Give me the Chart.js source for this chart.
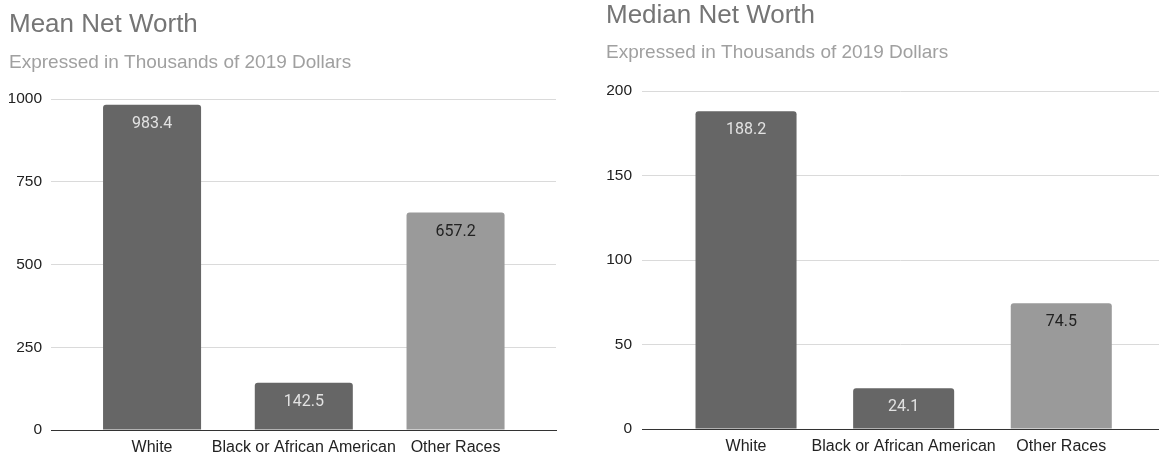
<!DOCTYPE html>
<html>
<head>
<meta charset="utf-8">
<script src="https://cdn.jsdelivr.net/npm/chart.js@4"></script>
<style>
  html, body { margin: 0; padding: 0; background: #fff; overflow: hidden; }
  canvas { position: absolute; top: 0; }
  #meanChart { left: 0; }
  #medianChart { left: 598px; }
</style>
</head>
<body>
<canvas id="meanChart" width="580" height="457"></canvas>
<canvas id="medianChart" width="561" height="457"></canvas>
<script>
const categories = ["White", "Black or African American", "Other Races"];
const meanValues = [983.4, 142.5, 657.2];
const medianValues = [188.2, 24.1, 74.5];
const barColors = ["#666666", "#666666", "#9a9a9a"];
const labelColors = ["#e2e2e2", "#e2e2e2", "#222222"];

// value labels drawn just inside the top of each bar
const barLabels = {
  id: "barLabels",
  afterDatasetsDraw(chart) {
    const ctx = chart.ctx;
    const meta = chart.getDatasetMeta(0);
    const ds = chart.data.datasets[0];
    ctx.save();
    ctx.font = "16px Roboto";
    ctx.textAlign = "center";
    ctx.textBaseline = "middle";
    meta.data.forEach((bar, i) => {
      ctx.fillStyle = labelColors[i];
      ctx.fillText(ds.data[i].y.toFixed(1), bar.x, bar.y + 19);
    });
    ctx.restore();
  }
};

function makeChart(id, cfg) {
  const ctx = document.getElementById(id);
  return new Chart(ctx, {
    type: "bar",
    data: {
      datasets: [{
        data: cfg.values.map((v, i) => ({ x: i, y: v })),
        backgroundColor: barColors,
        borderRadius: { topLeft: 3, topRight: 3 },
        borderSkipped: "start",
        categoryPercentage: 1,
        barPercentage: cfg.barPct
      }]
    },
    options: {
      responsive: false,
      animation: false,
      events: [],
      layout: { padding: { left: cfg.padLeft, right: cfg.padRight, top: 0, bottom: 0 } },
      plugins: {
        legend: { display: false },
        tooltip: { enabled: false },
        title: {
          display: true,
          text: cfg.title,
          align: "start",
          color: "#757575",
          font: { family: "'Liberation Sans', Arial", size: 26, weight: "normal", lineHeight: 1.2 },
          padding: cfg.titlePad
        },
        subtitle: {
          display: true,
          text: "Expressed in Thousands of 2019 Dollars",
          align: "start",
          color: "#a0a0a0",
          font: { family: "'Liberation Sans', Arial", size: 19, lineHeight: 1.2 },
          padding: cfg.subPad
        }
      },
      scales: {
        x: {
          type: "linear",
          offset: false,
          min: cfg.xMin,
          max: cfg.xMax,
          grid: { display: false, drawTicks: false },
          border: { display: true, color: "#333333", width: 1 },
          afterBuildTicks: (scale) => { scale.ticks = categories.map((_, i) => ({ value: i })); },
          afterFit: (scale) => { scale.height = cfg.xHeight; },
          ticks: {
            autoSkip: false,
            maxRotation: 0,
            padding: 8,
            color: "#222222",
            font: { family: "'Liberation Sans', Arial", size: 16 },
            callback: (v) => categories[v]
          }
        },
        y: {
          min: 0,
          max: cfg.yMax,
          grid: { color: "#dadada", drawTicks: false },
          border: { display: false },
          afterFit: (scale) => { scale.width = cfg.yWidth; },
          ticks: {
            stepSize: cfg.yStep,
            padding: cfg.yPad,
            color: "#222222",
            font: { family: "'Liberation Sans', Arial", size: 15.5 },
            callback: (v) => String(v)
          }
        }
      }
    },
    plugins: [barLabels]
  });
}

makeChart("meanChart", {
  title: "Mean Net Worth",
  values: meanValues,
  yMax: 1000, yStep: 250,
  xMin: -0.666, xMax: 2.662, barPct: 0.646,
  padLeft: 9, padRight: 24,
  yWidth: 42, yPad: 9, xHeight: 27,
  titlePad: { top: 9, bottom: 4 },
  subPad: { top: 6.7, bottom: 25.5 }
});

makeChart("medianChart", {
  title: "Median Net Worth",
  values: medianValues,
  yMax: 200, yStep: 50,
  xMin: -0.66, xMax: 2.62, barPct: 0.641,
  padLeft: 8, padRight: 0,
  yWidth: 36, yPad: 10, xHeight: 28,
  titlePad: { top: 0, bottom: 4 },
  subPad: { top: 5.7, bottom: 27.5 }
});
</script>
</body>
</html>
